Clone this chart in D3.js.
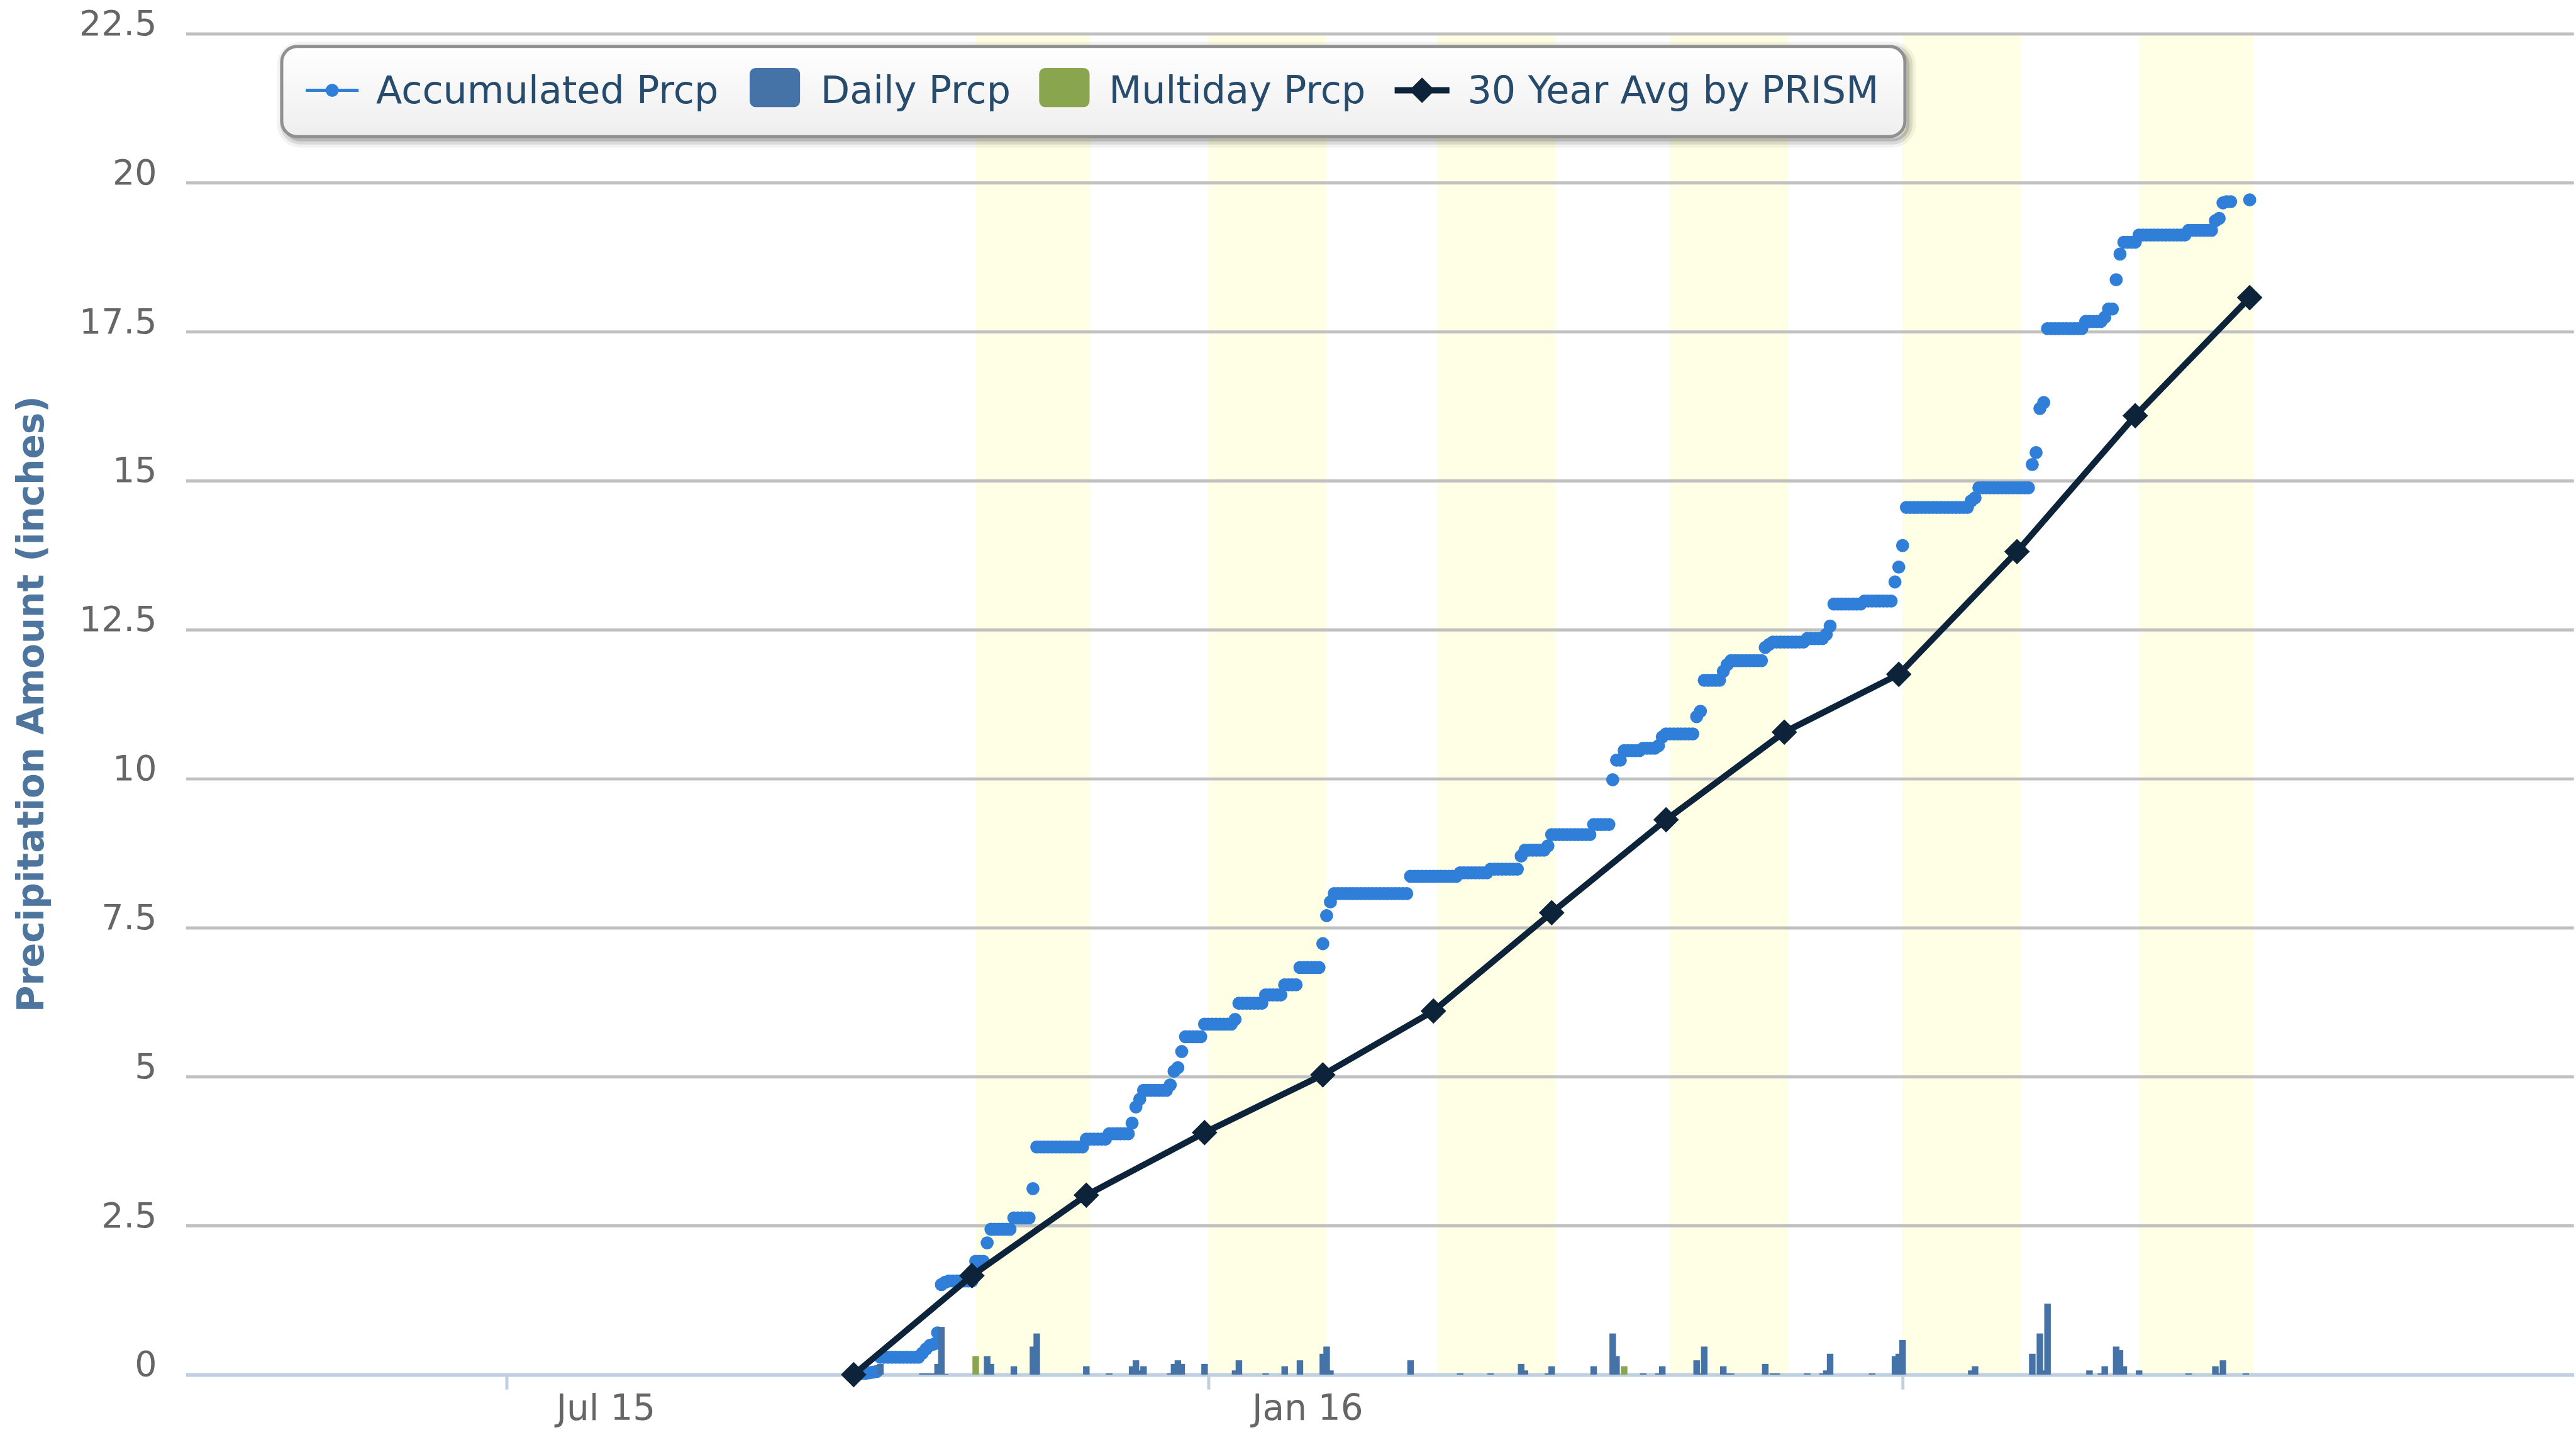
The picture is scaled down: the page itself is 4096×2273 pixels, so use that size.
<!DOCTYPE html>
<html>
<head>
<meta charset="utf-8">
<script src="https://cdn.jsdelivr.net/npm/d3@7"></script>
<style>
  html, body { margin: 0; padding: 0; background: #fff; }
  svg { display: block; font-family: "DejaVu Sans", sans-serif; }
</style>
</head>
<body>
<svg id="chart"></svg>
<script>
// ---- data ----
const seasonStart = "2015-10-01";

// accumulated precipitation, one value per day from Oct 1 2015
const accOct = [0.00, 0.02, 0.02, 0.03, 0.04, 0.05,
  0.29, 0.29, 0.29, 0.29, 0.29, 0.29, 0.29, 0.29, 0.29, 0.29, 0.29,
  0.36, 0.43, 0.49, 0.51, 0.70, 1.51, 1.55,
  1.57, 1.57, 1.57, 1.57, 1.57, 1.57, 1.57];
const accNov = [1.90, 1.90, 1.90, 2.21,
  2.44, 2.44, 2.44, 2.44, 2.44, 2.44,
  2.63, 2.63, 2.63, 2.63, 2.63, 3.12,
  3.82, 3.82, 3.82, 3.82, 3.82, 3.82, 3.82, 3.82, 3.82, 3.82, 3.82, 3.82, 3.82,
  3.95];
const accDec = [3.95, 3.95, 3.95, 3.95, 3.95,
  4.04, 4.04, 4.04, 4.04, 4.04, 4.04,
  4.22, 4.49, 4.62,
  4.77, 4.77, 4.77, 4.77, 4.77, 4.77, 4.77,
  4.86, 5.09, 5.15, 5.42,
  5.67, 5.67, 5.67, 5.67, 5.67, 5.88];
const accJan = [5.88, 5.88, 5.88, 5.88, 5.88, 5.88, 5.88, 5.96,
  6.23, 6.23, 6.23, 6.23, 6.23, 6.23, 6.23,
  6.37, 6.37, 6.37, 6.37, 6.37,
  6.54, 6.54, 6.54, 6.54,
  6.83, 6.83, 6.83, 6.83, 6.83, 6.83, 7.23];
const accFeb = [7.70, 7.93,
  8.07, 8.07, 8.07, 8.07, 8.07, 8.07, 8.07, 8.07, 8.07, 8.07,
  8.07, 8.07, 8.07, 8.07, 8.07, 8.07, 8.07, 8.07, 8.07, 8.07,
  8.36, 8.36, 8.36, 8.36, 8.36, 8.36, 8.36];
const accMar = [8.36, 8.36, 8.36, 8.36, 8.36, 8.36,
  8.42, 8.42, 8.42, 8.42, 8.42, 8.42, 8.42, 8.42,
  8.48, 8.48, 8.48, 8.48, 8.48, 8.48, 8.48, 8.48,
  8.70, 8.80, 8.80, 8.80, 8.80, 8.80, 8.80, 8.87, 9.06];
const accApr = [9.06, 9.06, 9.06, 9.06, 9.06, 9.06, 9.06, 9.06, 9.06, 9.06,
  9.23, 9.23, 9.23, 9.23, 9.23, 9.98, 10.31, 10.31,
  10.47, 10.47, 10.47, 10.47, 10.47,
  10.51, 10.51, 10.51, 10.51, 10.55, 10.70, 10.75];
const accMay = [10.75, 10.75, 10.75, 10.75, 10.75, 10.75, 10.75, 11.04, 11.13,
  11.65, 11.65, 11.65, 11.65, 11.65, 11.80, 11.91,
  11.98, 11.98, 11.98, 11.98, 11.98, 11.98, 11.98, 11.98, 11.98,
  12.20, 12.25, 12.29, 12.29, 12.29, 12.29];
const accJun = [12.29, 12.29, 12.29, 12.29, 12.29,
  12.35, 12.35, 12.35, 12.35, 12.35, 12.42, 12.56,
  12.93, 12.93, 12.93, 12.93, 12.93, 12.93, 12.93, 12.93,
  12.98, 12.98, 12.98, 12.98, 12.98, 12.98, 12.98, 12.98,
  13.30, 13.55];
const accJul = [13.91,
  14.55, 14.55, 14.55, 14.55, 14.55, 14.55, 14.55, 14.55, 14.55,
  14.55, 14.55, 14.55, 14.55, 14.55, 14.55, 14.55, 14.55,
  14.66, 14.71,
  14.88, 14.88, 14.88, 14.88, 14.88, 14.88, 14.88, 14.88, 14.88, 14.88, 14.88];
const accAug = [14.88, 14.88, 14.88, 15.27, 15.47, 16.21, 16.31,
  17.55, 17.55, 17.55, 17.55, 17.55, 17.55, 17.55, 17.55, 17.55, 17.55,
  17.67, 17.67, 17.67, 17.67, 17.67, 17.74, 17.88, 17.88, 18.37, 18.80,
  19.00, 19.00, 19.00, 19.00];
const accSep = [19.12, 19.12, 19.12, 19.12, 19.12, 19.12, 19.12, 19.12, 19.12,
  19.12, 19.12, 19.12, 19.12,
  19.20, 19.20, 19.20, 19.20, 19.20, 19.20, 19.20,
  19.36, 19.40, 19.66, 19.68, 19.68, null, null, null, null, 19.71];

// daily and multiday precipitation: day number since Oct 1 2015, inches
const dailyDay = [6, 17, 18, 19, 20, 21, 22, 23, 34, 35, 41, 46, 47, 60, 66, 72, 73, 74, 75,
  82, 83, 84, 85, 91, 99, 100, 107, 112, 116, 122, 123, 124, 145, 158, 166, 174, 175, 181, 182,
  193, 198, 199, 206, 210, 211, 220, 221, 222, 227, 228, 229, 238, 240, 241, 249, 253, 254, 255,
  266, 272, 273, 274, 292, 293, 308, 310, 311, 312, 323, 326, 327, 330, 331, 332, 336, 349,
  356, 357, 358, 364];
const dailyPrcp = [0.18, 0.02, 0.02, 0.02, 0.02, 0.18, 0.80, 0.01, 0.31, 0.18, 0.14, 0.47, 0.69, 0.14, 0.02, 0.14, 0.24, 0.07, 0.14,
  0.02, 0.18, 0.24, 0.18, 0.18, 0.07, 0.24, 0.02, 0.14, 0.24, 0.35, 0.47, 0.07, 0.24, 0.02, 0.02, 0.18, 0.07, 0.02, 0.14,
  0.14, 0.69, 0.31, 0.02, 0.02, 0.14, 0.24, 0.02, 0.47, 0.14, 0.02, 0.02, 0.18, 0.02, 0.02, 0.02, 0.02, 0.07, 0.35,
  0.02, 0.31, 0.35, 0.58, 0.07, 0.14, 0.35, 0.69, 0.07, 1.19, 0.07, 0.02, 0.14, 0.47, 0.41, 0.14, 0.07, 0.02,
  0.14, 0.02, 0.24, 0.02];
const multiDay = [31, 201];
const multiPrcp = [0.31, 0.14];

// 30 year normal by PRISM, accumulated at month ends
const prismDates = ["2015-09-30", "2015-10-31", "2015-11-30", "2015-12-31", "2016-01-31", "2016-02-29",
  "2016-03-31", "2016-04-30", "2016-05-31", "2016-06-30", "2016-07-31", "2016-08-31", "2016-09-30"];
const prismValues = [0, 1.66, 3.01, 4.06, 5.03, 6.10, 7.75, 9.31, 10.78, 11.75, 13.81, 16.09, 18.07];

// shaded months
const bandMonths = ["2015-11-01", "2016-01-01", "2016-03-01", "2016-05-01", "2016-07-01", "2016-09-01"];

const xDomain = ["2015-04-08", "2016-12-24"];
const xTickDates = ["2015-07-01", "2016-01-01", "2016-07-01"];
const xTickLabels = ["Jul 15", "Jan 16", ""];
const yTicks = [0, 2.5, 5, 7.5, 10, 12.5, 15, 17.5, 20, 22.5];

const legendLabels = ["Accumulated Prcp", "Daily Prcp", "Multiday Prcp", "30 Year Avg by PRISM"];
const yTitle = "Precipitation Amount (inches)";

// ---- drawing ----
const parse = d3.utcParse("%Y-%m-%d");
const start = parse(seasonStart);
const accumulated = [].concat(accOct, accNov, accDec, accJan, accFeb, accMar,
  accApr, accMay, accJun, accJul, accAug, accSep)
  .map((v, i) => ({date: d3.utcDay.offset(start, i), v: v}))
  .filter(d => d.v !== null);
const daily = dailyDay.map((d, i) => ({date: d3.utcDay.offset(start, d), v: dailyPrcp[i]}));
const multi = multiDay.map((d, i) => ({date: d3.utcDay.offset(start, d), v: multiPrcp[i]}));
const prism = prismDates.map((d, i) => ({date: parse(d), v: prismValues[i]}));

const S = 0.99;
const W = 4137, H = 2296;
const margin = {top: 54, right: 3, bottom: 89, left: 299};
const innerW = W - margin.left - margin.right;
const innerH = H - margin.top - margin.bottom;

const svg = d3.select("#chart")
  .attr("width", 4096)
  .attr("height", 2273);

const defs = svg.append("defs");
const grad = defs.append("linearGradient")
  .attr("id", "legendFill")
  .attr("x1", 0).attr("y1", 0).attr("x2", 0).attr("y2", 1);
grad.append("stop").attr("offset", "0%").attr("stop-color", "#ffffff");
grad.append("stop").attr("offset", "100%").attr("stop-color", "#eeeeee");

const root = svg.append("g").attr("transform", `scale(${S})`);
const chart = root.append("g")
  .attr("transform", `translate(${margin.left},${margin.top})`);

const x = d3.scaleUtc()
  .domain(xDomain.map(parse))
  .range([0, innerW]);
const y = d3.scaleLinear()
  .domain([0, 22.5])
  .range([innerH, 0]);

// plot bands
chart.append("g").selectAll("rect")
  .data(bandMonths.map(parse))
  .join("rect")
  .attr("x", d => x(d))
  .attr("width", d => x(d3.utcMonth.offset(d, 1)) - x(d))
  .attr("y", 0)
  .attr("height", innerH)
  .attr("fill", "#ffffe5");

// grid lines
const grid = chart.append("g")
  .call(d3.axisLeft(y).tickValues(yTicks).tickSize(-innerW).tickFormat(""));
grid.select(".domain").remove();
grid.selectAll("line").attr("stroke", "#c0c0c0").attr("stroke-width", 5);

// y labels
const yAxis = chart.append("g")
  .call(d3.axisLeft(y).tickValues(yTicks).tickSize(0).tickPadding(47).tickFormat(d => String(d)));
yAxis.select(".domain").remove();
yAxis.selectAll("text")
  .attr("dy", null)
  .attr("y", 2)
  .attr("fill", "#666666")
  .attr("font-size", 56)
  .attr("font-family", "DejaVu Sans");

// x axis
const xAxis = chart.append("g")
  .attr("transform", `translate(0,${innerH})`)
  .call(d3.axisBottom(x).tickValues(xTickDates.map(parse)).tickSizeInner(24).tickSizeOuter(0)
    .tickFormat((d, i) => xTickLabels[i]));
xAxis.select(".domain").attr("stroke", "#c0d0e0").attr("stroke-width", 6);
xAxis.selectAll("line").attr("stroke", "#c0d0e0").attr("stroke-width", 5);
xAxis.selectAll("text")
  .attr("dy", null)
  .attr("x", 159)
  .attr("y", 73)
  .attr("fill", "#666666")
  .attr("font-size", 57)
  .attr("font-family", "DejaVu Sans");

// accumulated dots
chart.append("g").selectAll("circle")
  .data(accumulated)
  .join("circle")
  .attr("cx", d => x(d.date))
  .attr("cy", d => y(d.v))
  .attr("r", 10.5)
  .attr("fill", "#2f7ed8");

// bars
const barW = 10.5;
function drawBars(data, color) {
  chart.append("g").selectAll("rect")
    .data(data)
    .join("rect")
    .attr("x", d => x(d.date) - barW / 2)
    .attr("width", barW)
    .attr("y", d => y(d.v))
    .attr("height", d => innerH - y(d.v))
    .attr("fill", color);
}
drawBars(daily, "#4572a7");
drawBars(multi, "#89a54e");

// PRISM line
const line = d3.line().x(d => x(d.date)).y(d => y(d.v));
chart.append("path")
  .datum(prism)
  .attr("d", line)
  .attr("fill", "none")
  .attr("stroke", "#0d233a")
  .attr("stroke-width", 10)
  .attr("stroke-linejoin", "round");
const diamond = d3.symbol().type(d3.symbolSquare).size(841);
chart.append("g").selectAll("path")
  .data(prism)
  .join("path")
  .attr("d", diamond)
  .attr("transform", d => `translate(${x(d.date)},${y(d.v)}) rotate(45)`)
  .attr("fill", "#0d233a");

// y axis title
root.append("text")
  .attr("transform", `translate(70,${margin.top + innerH / 2}) rotate(-90)`)
  .attr("text-anchor", "middle")
  .attr("font-size", 58.5)
  .attr("font-weight", "bold")
  .attr("fill", "#4d759e")
  .text(yTitle);

// legend
const legend = root.append("g");
const box = {x: 452.5, y: 74.5, w: 2607, h: 145, r: 25};
[[25, 0.05], [15, 0.1], [5, 0.15]].forEach(([sw, op]) => {
  legend.append("rect")
    .attr("x", box.x + 5).attr("y", box.y + 5)
    .attr("width", box.w).attr("height", box.h)
    .attr("rx", box.r)
    .attr("fill", "none")
    .attr("stroke", "#000")
    .attr("stroke-opacity", op)
    .attr("stroke-width", sw);
});
legend.append("rect")
  .attr("x", box.x).attr("y", box.y)
  .attr("width", box.w).attr("height", box.h)
  .attr("rx", box.r)
  .attr("fill", "url(#legendFill)")
  .attr("stroke", "#909090")
  .attr("stroke-width", 5);

const symY = 145, textY = 166;
// accumulated symbol
legend.append("line")
  .attr("x1", 491).attr("x2", 576).attr("y1", symY).attr("y2", symY)
  .attr("stroke", "#2f7ed8").attr("stroke-width", 5);
legend.append("circle")
  .attr("cx", 533.5).attr("cy", symY).attr("r", 10.5).attr("fill", "#2f7ed8");
// daily & multiday symbols
legend.append("rect")
  .attr("x", 1204).attr("y", 109).attr("width", 81).attr("height", 63).attr("rx", 10)
  .attr("fill", "#4572a7");
legend.append("rect")
  .attr("x", 1669).attr("y", 109).attr("width", 81).attr("height", 63).attr("rx", 10)
  .attr("fill", "#89a54e");
// prism symbol
legend.append("line")
  .attr("x1", 2240).attr("x2", 2328).attr("y1", symY).attr("y2", symY)
  .attr("stroke", "#0d233a").attr("stroke-width", 10);
legend.append("path")
  .attr("d", diamond)
  .attr("transform", `translate(2284,${symY}) rotate(45)`)
  .attr("fill", "#0d233a");

const textX = [604, 1318, 1781, 2357];
legend.selectAll("text.item")
  .data(legendLabels)
  .join("text")
  .attr("class", "item")
  .attr("x", (d, i) => textX[i])
  .attr("y", textY)
  .attr("font-size", 61)
  .attr("fill", "#274b6d")
  .text(d => d);
</script>
</body>
</html>
